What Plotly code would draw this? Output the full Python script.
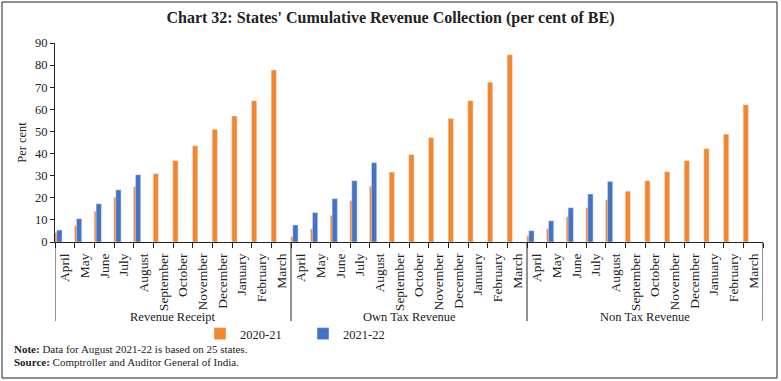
import plotly.graph_objects as go

months = ["April", "May", "June", "July", "August", "September", "October",
          "November", "December", "January", "February", "March"]
groups = ["Revenue Receipt", "Own Tax Revenue", "Non Tax Revenue"]

rr_2020 = [4.3, 7.4, 13.9, 20.2, 25.0, 30.9, 36.8, 43.5, 50.9, 57.0, 63.9, 77.8]
rr_2021 = [5.4, 10.5, 17.3, 23.6, 30.4, None, None, None, None, None, None, None]
otr_2020 = [2.4, 5.9, 12.0, 18.7, 25.2, 31.6, 39.5, 47.2, 55.8, 63.9, 72.3, 84.7]
otr_2021 = [7.7, 13.3, 19.6, 27.7, 35.9, None, None, None, None, None, None, None]
ntr_2020 = [2.8, 6.0, 11.4, 15.5, 19.1, 23.0, 27.7, 31.8, 36.8, 42.2, 48.8, 62.1]
ntr_2021 = [5.1, 9.6, 15.5, 21.7, 27.4, None, None, None, None, None, None, None]

series_2020 = rr_2020 + otr_2020 + ntr_2020
series_2021 = rr_2021 + otr_2021 + ntr_2021
n_m = len(months)
x_pos = list(range(n_m * len(groups)))
tick_text = months * len(groups)

ORANGE = "#F4862E"
BLUE = "#4472C4"
INK = "#222"
FONT = "Liberation Serif"

W, H = 781, 381
L, R, T, B = 55, 18, 43, 139
PW, PH = W - L - R, H - T - B


def px_x(px):
    return (px - L) / PW


def px_y(py):
    return (H - B - py) / PH


fig = go.Figure()
fig.add_trace(go.Bar(x=x_pos, y=series_2020, name="2020-21",
                     marker_color=ORANGE, width=0.27, offset=-0.51))
fig.add_trace(go.Bar(x=x_pos, y=series_2021, name="2021-22",
                     marker_color=BLUE, width=0.27, offset=-0.41))

fig.update_layout(
    width=W, height=H,
    margin=dict(l=L, r=R, t=T, b=B, autoexpand=False),
    paper_bgcolor="white", plot_bgcolor="white",
    barmode="overlay",
    font=dict(family=FONT, size=11, color=INK),
    title=dict(text="<b>Chart 32: States' Cumulative Revenue Collection (per cent of BE)</b>",
               x=0.5, xref="container", xanchor="center",
               y=1 - 17 / H, yref="container", yanchor="middle",
               font=dict(family=FONT, size=16, color=INK)),
    showlegend=True,
    legend=dict(orientation="h", x=px_x(200), y=px_y(334), xanchor="left", yanchor="middle",
                entrywidth=58, entrywidthmode="pixels", itemwidth=30,
                font=dict(family=FONT, size=12.5), bgcolor="rgba(0,0,0,0)",
                traceorder="normal"),
)

boundaries = [i - 0.5 for i in range(len(x_pos) + 1)]
fig.update_xaxes(range=[-0.5, len(x_pos) - 0.5], tickmode="array", tickvals=x_pos,
                 ticktext=tick_text, tickangle=-90, ticks="", ticklabelstandoff=5,
                 showline=True, linecolor=INK, linewidth=1, showgrid=False, zeroline=False,
                 tickfont=dict(family=FONT, size=13.5, color=INK), automargin=False,
                 minor=dict(tickmode="array", tickvals=boundaries, ticks="outside",
                            ticklen=5, tickcolor=INK, showgrid=False))
fig.update_yaxes(range=[0, 90], dtick=10, showline=True, linecolor=INK, linewidth=1,
                 ticks="outside", ticklen=4, tickcolor=INK, showgrid=False, zeroline=False,
                 tickfont=dict(family=FONT, size=12.5, color=INK), automargin=False,
                 title=dict(text="Per cent", font=dict(family=FONT, size=12.5), standoff=5))

# group dividers and group labels
for gi, g in enumerate(groups):
    x_left = gi * n_m - 0.5
    fig.add_shape(type="line", xref="x", yref="paper", x0=x_left, x1=x_left,
                  y0=0, y1=px_y(321), line=dict(color=INK, width=1))
    fig.add_annotation(text=g, xref="x", yref="paper", x=gi * n_m + (n_m - 1) / 2,
                       y=px_y(317), xanchor="center", yanchor="middle", showarrow=False,
                       font=dict(family=FONT, size=12.5, color=INK))
x_end = len(x_pos) - 0.5
fig.add_shape(type="line", xref="x", yref="paper", x0=x_end, x1=x_end,
              y0=0, y1=px_y(321), line=dict(color=INK, width=1))

fig.add_annotation(text="<b>Note:</b> Data for August 2021-22 is based on 25 states.",
                   xref="paper", yref="paper", x=px_x(12), y=px_y(349),
                   xanchor="left", yanchor="middle", showarrow=False,
                   font=dict(family=FONT, size=11, color=INK))
fig.add_annotation(text="<b>Source:</b> Comptroller and Auditor General of India.",
                   xref="paper", yref="paper", x=px_x(12), y=px_y(362),
                   xanchor="left", yanchor="middle", showarrow=False,
                   font=dict(family=FONT, size=11, color=INK))

fig.add_shape(type="rect", xref="paper", yref="paper",
              x0=px_x(2), x1=px_x(777), y0=px_y(378), y1=px_y(2),
              line=dict(color=INK, width=1), fillcolor="rgba(0,0,0,0)", layer="above")

fig.write_html("out.html", config={"displayModeBar": False},
               post_script="document.body.style.margin='0';")
